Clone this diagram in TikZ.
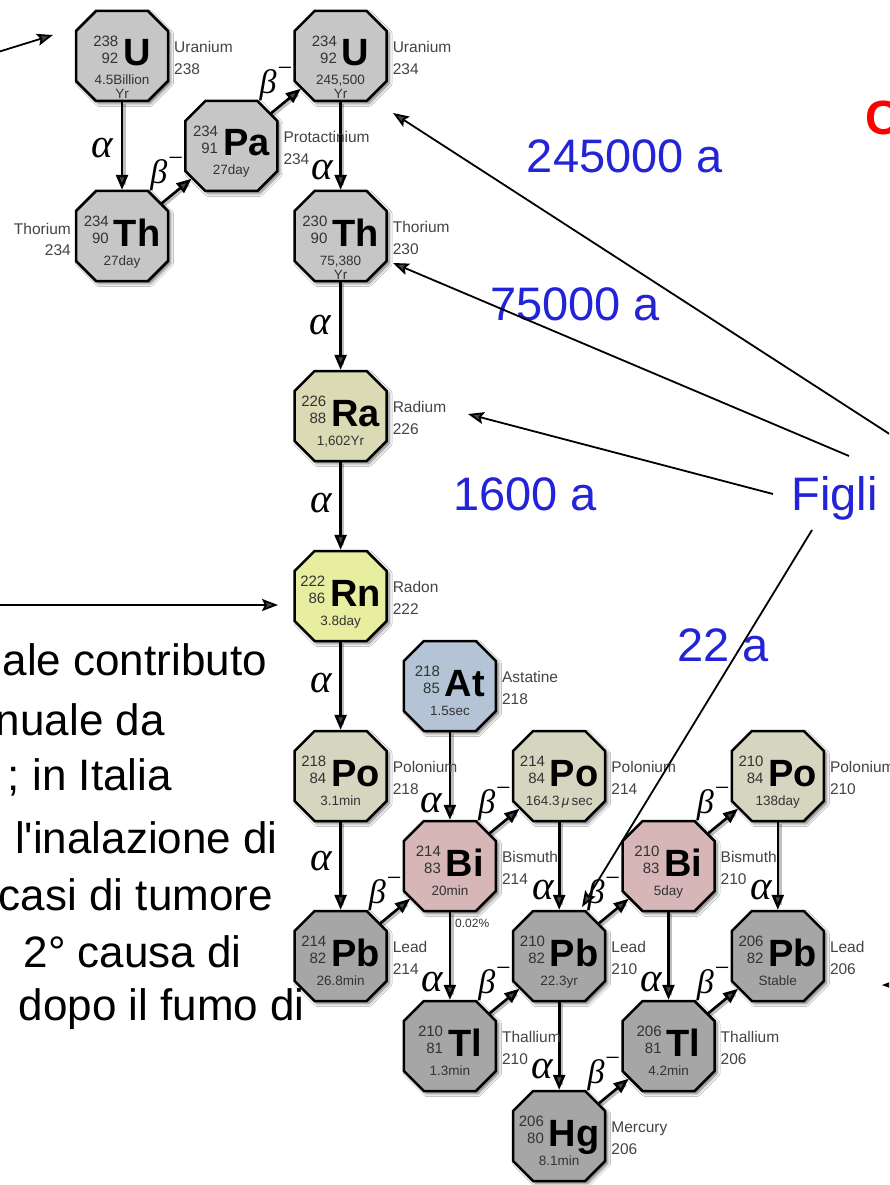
\documentclass[tikz,border=0pt]{standalone}
\usepackage{fontspec}
\setmainfont{Liberation Sans}
\newfontfamily\grkfont{Liberation Serif}
\usetikzlibrary{arrows.meta,calc,shadows.blur}

% fills of the nuclide octagons
\definecolor{lgray}{HTML}{C6C6C6}
\definecolor{pbgray}{HTML}{A6A6A6}
\definecolor{rakhaki}{HTML}{DADAB4}
\definecolor{rnyellow}{HTML}{E8EEA0}
\definecolor{pobeige}{HTML}{D6D6C0}
\definecolor{atblue}{HTML}{B4C4D6}
\definecolor{bipink}{HTML}{D6B6B6}
\definecolor{inktext}{HTML}{333333}
\definecolor{labgray}{HTML}{444444}
\definecolor{noteblue}{HTML}{2323D8}

% font sizes
\newcommand\symf{\fontsize{38}{38}\selectfont\bfseries}
\newcommand\smf{\fontsize{15}{17}\selectfont}
\newcommand\hlf{\fontsize{13.5}{14}\selectfont}
\newcommand\elf{\fontsize{15.5}{18}\selectfont}
\newcommand\alphasym{{\fontsize{41}{41}\selectfont\grkfont\itshape α}}
\newcommand\betasym{{\fontsize{34}{34}\selectfont\grkfont\itshape β}\kern1pt\raisebox{17pt}{\grkfont\fontsize{26}{26}\selectfont −}}

\tikzset{
  isobox/.style={shape=rectangle, inner sep=0pt, outer sep=1.2pt,
    minimum width=92pt, minimum height=90pt},
  octo/.style={draw=black, line width=2.5pt, line join=miter,
    blur shadow={shadow xshift=2.5pt, shadow yshift=-2.5pt,
      shadow blur radius=3pt, shadow blur steps=6, shadow opacity=55}},
  isotxt/.style={inner sep=0pt, text=black},
  hl/.style={inner sep=0pt, anchor=base, font=\hlf, text=inktext},
  elname/.style={inner sep=0pt, font=\elf, text=labgray},
  grk/.style={inner sep=0pt},
  decay/.style={line width=2.6pt, -{Triangle[length=15pt,width=12pt]},
    preaction={draw=black, opacity=0.25, line width=4.5pt, -, shorten >=6pt,
      transform canvas={xshift=1.5pt, yshift=-1.5pt}}},
  ann/.style={line width=1.8pt, -{Stealth[length=16pt,width=12pt,inset=3pt]}},
  note/.style={inner sep=0pt, font=\fontsize{47}{52}\selectfont, text=noteblue},
  body/.style={inner sep=0pt, font=\fontsize{44}{52}\selectfont, text=black, anchor=base east},
}

% nuclide box: name, x, y, fill, mass, Z, symbol, half-life, second half-life line
\newcommand\iso[9]{%
  \node[isobox] (#1) at (#2,#3) {};
  \path[octo, fill=#4] ($(#1)+(-26,-45)$) -- ($(#1)+(26,-45)$) -- ($(#1)+(46,-25)$)
    -- ($(#1)+(46,25)$) -- ($(#1)+(26,45)$) -- ($(#1)+(-26,45)$)
    -- ($(#1)+(-46,25)$) -- ($(#1)+(-46,-25)$) -- cycle;
  \node[isotxt, anchor=base] (#1-sym) at ($(#1)+(0,10)$)
    {\raisebox{2.5pt}{\smf\color{inktext}\begin{tabular}[b]{@{}r@{}}#5\\#6\end{tabular}}\kern5pt{\symf #7}};
  \node[hl] (#1-hl) at ($(#1)+(0,29)$) {#8};
  \if\relax\detokenize{#9}\relax\else
    \node[hl] (#1-hlb) at ($(#1)+(0,43)$) {#9};
  \fi
}
% element name and mass number beside a box
\newcommand\elr[3]{%
  \node[elname, anchor=base west] (#1-n) at ($(#1)+(52,-3.5)$) {#2};
  \node[elname, anchor=base west] (#1-m) at ($(#1)+(52,18.5)$) {#3};
}
\newcommand\elleft[3]{%
  \node[elname, anchor=base east] (#1-n) at ($(#1)+(-51,-1.5)$) {#2};
  \node[elname, anchor=base east] (#1-m) at ($(#1)+(-51,19.5)$) {#3};
}
% alpha decay: straight down; beta decay: up-right, chamfer to chamfer
\newcommand\adec[4]{%
  \draw[decay] (#1.south) -- (#2.north);
  \node[grk] (#1-#2-l) at ($(#1)!0.5!(#2)+(#3,#4)$) {\alphasym};
}
\newcommand\bdec[2]{%
  \draw[decay] ($(#1)!51.5pt!(#2)$) -- ($(#2)!51.5pt!(#1)$);
  \node[grk] (#1-#2-l) at ($(#1)!0.5!(#2)+(-10,-17)$) {\betasym};
}

\begin{document}
\begin{tikzpicture}[x=1pt,y=-1pt]
\useasboundingbox (0,0) rectangle (889,1185);
\clip (0,0) rectangle (889,1185);
\fill[white] (0,0) rectangle (889,1185);

% uranium series
\iso{U238}{122}{56}{lgray}{238}{92}{U}{4.5Billion}{Yr}
\iso{Th234}{122}{236}{lgray}{234}{90}{Th}{27day}{}
\iso{Pa234}{231.3}{146}{lgray}{234}{91}{Pa}{27day}{}
\iso{U234}{340.6}{56}{lgray}{234}{92}{U}{245,500}{Yr}
\iso{Th230}{340.6}{236}{lgray}{230}{90}{Th}{75,380}{Yr}
\iso{Ra226}{340.6}{416}{rakhaki}{226}{88}{Ra}{1,602Yr}{}
\iso{Rn222}{340.6}{596}{rnyellow}{222}{86}{Rn}{3.8day}{}
\iso{Po218}{340.6}{776}{pobeige}{218}{84}{Po}{3.1min}{}
\iso{At218}{449.9}{686}{atblue}{218}{85}{At}{1.5sec}{}
\iso{Bi214}{449.9}{866}{bipink}{214}{83}{Bi}{20min}{}
\iso{Po214}{559.2}{776}{pobeige}{214}{84}{Po}{164.3\,{\itshape μ}\,sec}{}
\iso{Pb214}{340.6}{956}{pbgray}{214}{82}{Pb}{26.8min}{}
\iso{Tl210}{449.9}{1046}{pbgray}{210}{81}{Tl}{1.3min}{}
\iso{Pb210}{559.2}{956}{pbgray}{210}{82}{Pb}{22.3yr}{}
\iso{Hg206}{559.2}{1136}{pbgray}{206}{80}{Hg}{8.1min}{}
\iso{Bi210}{668.5}{866}{bipink}{210}{83}{Bi}{5day}{}
\iso{Po210}{777.8}{776}{pobeige}{210}{84}{Po}{138day}{}
\iso{Pb206}{777.8}{956}{pbgray}{206}{82}{Pb}{Stable}{}
\iso{Tl206}{668.5}{1046}{pbgray}{206}{81}{Tl}{4.2min}{}

% decays
\adec{U238}{Th234}{-20}{2}
\bdec{Th234}{Pa234}
\bdec{Pa234}{U234}
\adec{U234}{Th230}{-18}{24}
\adec{Th230}{Ra226}{-20}{-1}
\adec{Ra226}{Rn222}{-19}{-3}
\adec{Rn222}{Po218}{-19}{-3}
\adec{Po218}{Pb214}{-19}{-5}
\adec{At218}{Bi214}{-19}{27}
\bdec{Pb214}{Bi214}
\bdec{Bi214}{Po214}
\adec{Po214}{Pb210}{-16}{24}
\adec{Bi214}{Tl210}{-18}{26}
\bdec{Tl210}{Pb210}
\adec{Pb210}{Hg206}{-17}{23}
\bdec{Hg206}{Tl206}
\bdec{Pb210}{Bi210}
\bdec{Bi210}{Po210}
\adec{Bi210}{Tl206}{-17}{26}
\adec{Po210}{Pb206}{-17}{24}
\bdec{Tl206}{Pb206}

% element names
\elr{U238}{Uranium}{238}
\elleft{Th234}{Thorium}{234}
\elr{Pa234}{Protactinium}{234}
\elr{U234}{Uranium}{234}
\elr{Th230}{Thorium}{230}
\elr{Ra226}{Radium}{226}
\elr{Rn222}{Radon}{222}
\elr{Po218}{Polonium}{218}
\elr{At218}{Astatine}{218}
\elr{Bi214}{Bismuth}{214}
\elr{Po214}{Polonium}{214}
\elr{Pb214}{Lead}{214}
\elr{Tl210}{Thallium}{210}
\elr{Pb210}{Lead}{210}
\elr{Hg206}{Mercury}{206}
\elr{Bi210}{Bismuth}{210}
\elr{Po210}{Polonium}{210}
\elr{Pb206}{Lead}{206}
\elr{Tl206}{Thallium}{206}
\node[inner sep=0pt, anchor=base west, font=\fontsize{12}{12}\selectfont, text=inktext]
  (branch) at (455,927) {0.02\%};

% notes
\node[note, anchor=base] (t245) at (625,172) {245000 a};
\node[note, anchor=base] (t75) at (575,320) {75000 a};
\node[note, anchor=base] (t1600) at (525,510) {1600 a};
\node[note, anchor=base] (t22) at (723,661) {22 a};
\node[note, anchor=base] (Figli) at (834.5,510) {Figli};
\node[inner sep=0pt, anchor=base west, font=\fontsize{48}{52}\selectfont\bfseries, text=red]
  (redC) at (865,135) {C};

\node[body] (l1) at (267,675) {ale contributo};
\node[body] (l2) at (165,735) {nuale da};
\node[body] (l3) at (172,790) {; in Italia};
\node[body] (l4) at (278,853) {l\textquotesingle inalazione di};
\node[body] (l5) at (273,910) {casi di tumore};
\node[body] (l6) at (242,967) {2° causa di};
\node[body] (l7) at (305,1020) {dopo il fumo di};

% pointers
\coordinate (edgeA) at (-10,54.5);
\coordinate (tipU238) at (53,35);
\coordinate (edgeB) at (-10,605);
\coordinate (tipRn) at (278,605);
\coordinate (edgeC) at (905,444);
\coordinate (tipU234) at (393,113);
\coordinate (tipTh230) at (393,263);
\coordinate (tipRa) at (468,414);
\coordinate (tipPb210) at (582,907);
\coordinate (edgeD) at (905,985);
\coordinate (tipPb206) at (882,985);
\coordinate (fTh) at ($(Figli.base)+(14.5,-54)$);
\coordinate (fRa) at ($(Figli.base)+(-61.5,-16)$);
\coordinate (fPb) at ($(Figli.base)+(-22.5,20)$);

\draw[ann] (edgeA) -- (tipU238);
\draw[ann] (edgeB) -- (tipRn);
\draw[ann] (edgeC) -- (tipU234);
\draw[ann] (fTh) -- (tipTh230);
\draw[ann] (fRa) -- (tipRa);
\draw[ann] (fPb) -- (tipPb210);
\draw[ann] (edgeD) -- (tipPb206);
\end{tikzpicture}
\end{document}
